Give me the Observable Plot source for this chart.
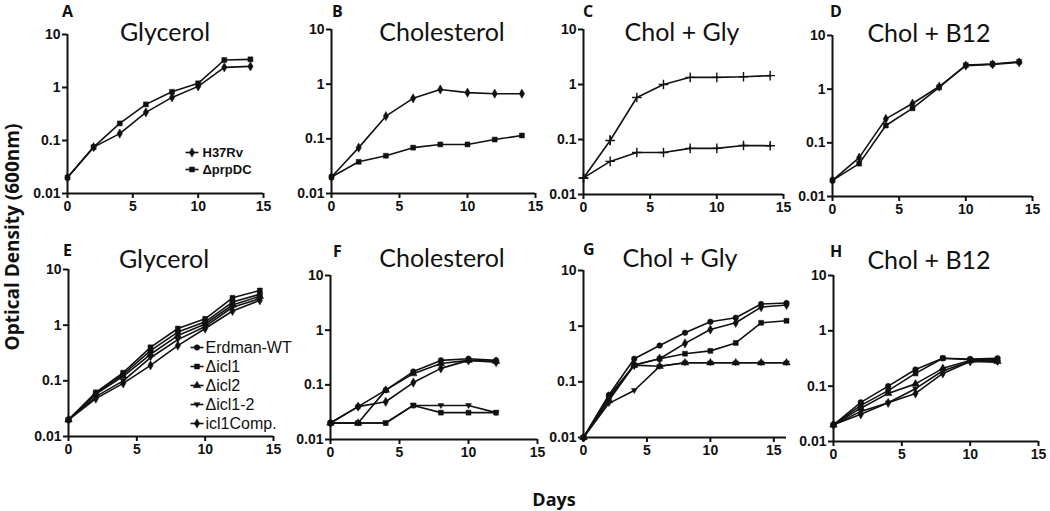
<!DOCTYPE html>
<html>
<head>
<meta charset="utf-8">
<script src="https://cdn.jsdelivr.net/npm/d3@7"></script>
<script src="https://cdn.jsdelivr.net/npm/@observablehq/plot@0.6"></script>
<style>
  html, body { margin: 0; padding: 0; background: #fff; }
  #fig { position: relative; width: 1050px; height: 511px; overflow: hidden; background: #fff; }
  .title { position: absolute; font-family: Lato, "Open Sans", sans-serif; font-size: 25px; line-height: 25px; color: #111; white-space: nowrap; transform: translateX(-50%); }
  .letter { position: absolute; font-family: "Open Sans", Lato, sans-serif; font-weight: bold; font-size: 16px; line-height: 16px; color: #111; }
  .axlabel { position: absolute; font-family: "Open Sans", Lato, sans-serif; font-weight: bold; color: #111; white-space: nowrap; }
</style>
</head>
<body>
<div id="fig"></div>
<script>
// ---------- data ----------
const topDays = [0, 2, 4, 6, 8, 10, 12, 14];
const topSeries = ["H37Rv", "ΔprpDC"];

const A_H37Rv = [0.02, 0.075, 0.135, 0.34, 0.65, 1.05, 2.4, 2.5];
const A_prpDC = [0.02, 0.075, 0.21, 0.48, 0.83, 1.2, 3.3, 3.4];

const B_H37Rv = [0.02, 0.069, 0.26, 0.55, 0.8, 0.7, 0.67, 0.67];
const B_prpDC = [0.02, 0.038, 0.049, 0.069, 0.079, 0.079, 0.097, 0.115];

const C_H37Rv = [0.02, 0.096, 0.58, 1.0, 1.35, 1.35, 1.38, 1.45];
const C_prpDC = [0.02, 0.04, 0.058, 0.058, 0.069, 0.069, 0.078, 0.077];
const C_errDay = [2, 8, 10, 12, 14];
const C_errLo = [0.078, 0.064, 0.064, 0.073, 0.072];
const C_errHi = [0.117, 0.074, 0.074, 0.084, 0.083];

const D_H37Rv = [0.02, 0.053, 0.28, 0.54, 1.12, 2.75, 2.9, 3.15];
const D_prpDC = [0.02, 0.041, 0.21, 0.44, 1.08, 2.8, 2.95, 3.25];

const botSeries = ["Erdman-WT", "Δicl1", "Δicl2", "Δicl1-2", "icl1Comp."];

const E_days = [0, 2, 4, 6, 8, 10, 12, 14];
const E_WT = [0.02, 0.06, 0.13, 0.35, 0.75, 1.15, 2.6, 3.6];
const E_icl1 = [0.02, 0.062, 0.14, 0.4, 0.87, 1.3, 3.1, 4.2];
const E_icl2 = [0.02, 0.058, 0.12, 0.3, 0.65, 1.05, 2.3, 3.3];
const E_icl12 = [0.02, 0.052, 0.1, 0.26, 0.55, 0.95, 2.1, 3.0];
const E_comp = [0.02, 0.048, 0.09, 0.19, 0.43, 0.87, 1.8, 2.8];

const F_days = [0, 2, 4, 6, 8, 10, 12];
const F_WT = [0.02, 0.04, 0.08, 0.175, 0.28, 0.3, 0.28];
const F_icl1 = [0.02, 0.02, 0.02, 0.042, 0.031, 0.031, 0.031];
const F_icl2 = [0.02, 0.02, 0.08, 0.16, 0.245, 0.28, 0.27];
const F_icl12 = [0.02, 0.02, 0.02, 0.042, 0.042, 0.042, 0.031];
const F_comp = [0.02, 0.04, 0.049, 0.11, 0.2, 0.28, 0.26];

const G_days = [0, 2, 4, 6, 8, 10, 12, 14, 16];
const G_WT = [0.01, 0.058, 0.26, 0.45, 0.76, 1.2, 1.42, 2.5, 2.6];
const G_icl1 = [0.01, 0.05, 0.2, 0.26, 0.32, 0.36, 0.5, 1.15, 1.25];
const G_icl2 = [0.01, 0.046, 0.2, 0.19, 0.22, 0.22, 0.22, 0.22, 0.22];
const G_icl12 = [0.01, 0.041, 0.07, 0.19, 0.22, 0.22, 0.22, 0.22, 0.22];
const G_comp = [0.01, 0.055, 0.2, 0.26, 0.49, 0.87, 1.15, 2.2, 2.4];

const H_days = [0, 2, 4, 6, 8, 10, 12];
const H_WT = [0.02, 0.051, 0.1, 0.2, 0.32, 0.31, 0.32];
const H_icl1 = [0.02, 0.045, 0.083, 0.17, 0.32, 0.3, 0.3];
const H_icl2 = [0.02, 0.04, 0.074, 0.11, 0.21, 0.29, 0.28];
const H_icl12 = [0.02, 0.035, 0.05, 0.09, 0.19, 0.28, 0.27];
const H_comp = [0.02, 0.031, 0.05, 0.074, 0.17, 0.28, 0.29];

const yTicks = [0.01, 0.1, 1, 10];
const xTicks = [0, 5, 10, 15];

// ---------- symbols ----------
const triangleDown = {
  draw(context, size) {
    const s = Math.sqrt(size) * 0.62;
    context.moveTo(0, s);
    context.lineTo(s * 0.95, -s * 0.6);
    context.lineTo(-s * 0.95, -s * 0.6);
    context.closePath();
  }
};
const symbolOf = {
  "H37Rv": "diamond", "ΔprpDC": "square",
  "Erdman-WT": "circle", "Δicl1": "square", "Δicl2": "triangle",
  "Δicl1-2": triangleDown, "icl1Comp.": "diamond"
};

const fig = document.getElementById("fig");
const INK = "#111";
const tickStyle = { fontFamily: "'Liberation Sans', Arial, sans-serif", fontSize: "14px", fontWeight: "bold", color: INK, background: "transparent" };

function rowsOf(days, values, name) {
  return days.map((d, i) => ({ day: d, od: values[i], series: name }));
}

function panel(p) {
  const ml = 48, mr = 14, mt = 8, mb = 28;
  const w = ml + (p.xEnd - p.x0) + mr;
  const h = mt + (p.yBot - p.yTop) + mb;
  const marks = [
    Plot.ruleY([0.01], { stroke: INK, strokeWidth: 2 }),
    Plot.ruleX([0], { stroke: INK, strokeWidth: 2 }),
    Plot.axisX({ ticks: xTicks, tickSize: 5, tickPadding: 3, strokeWidth: 2, label: null }),
    Plot.axisY({ ticks: yTicks, tickFormat: d => String(d), tickSize: 5, tickPadding: 2, strokeWidth: 2, label: null })
  ];
  if (p.err) {
    marks.push(Plot.ruleX(p.err, { x: "day", y1: "lo", y2: "hi", stroke: INK, strokeWidth: 1.6 }));
  }
  for (const s of p.series) {
    const rows = rowsOf(p.days, s.values, s.name);
    marks.push(Plot.line(rows, { x: "day", y: "od", stroke: INK, strokeWidth: 1.6 }));
    if (p.plusMarkers) {
      marks.push(Plot.dot(rows, { x: "day", y: "od", symbol: "plus", r: 3.2, stroke: INK, strokeWidth: 1.4, fill: "none" }));
    } else {
      marks.push(Plot.dot(rows, { x: "day", y: "od", symbol: symbolOf[s.name], r: 2.8, fill: INK, stroke: INK, strokeWidth: 0.5 }));
    }
  }
  const svg = Plot.plot({
    width: w, height: h,
    marginLeft: ml, marginRight: mr, marginTop: mt, marginBottom: mb,
    x: { domain: [0, p.xMax] },
    y: { type: "log", domain: [0.01, 10] },
    style: tickStyle,
    marks
  });
  svg.style.position = "absolute";
  svg.style.left = (p.x0 - ml) + "px";
  svg.style.top = (p.yTop - mt) + "px";
  fig.appendChild(svg);
}

function legend(names, opt) {
  const svg = Plot.plot({
    width: opt.width, height: opt.height,
    margin: 0,
    x: { domain: [0, 1], range: [5, 18] },
    y: { type: "point", domain: names, range: opt.yRange, padding: 0 },
    axis: null,
    style: { fontFamily: "'Liberation Sans', Arial, sans-serif", fontWeight: opt.weight, color: INK, background: "transparent", overflow: "visible" },
    marks: [
      Plot.link(names, { x1: 0, x2: 1, y1: d => d, y2: d => d, stroke: INK, strokeWidth: 1.6 }),
      Plot.dot(names, { x: 0.5, y: d => d, symbol: d => symbolOf[d], r: 2.8, fill: INK, stroke: INK, strokeWidth: 0.5 }),
      Plot.text(names, { x: 1, y: d => d, text: d => d, dx: opt.dx, textAnchor: "start", fill: INK, fontSize: opt.size, fontWeight: opt.weight })
    ]
  });
  svg.style.position = "absolute";
  svg.style.left = opt.left + "px";
  svg.style.top = opt.top + "px";
  fig.appendChild(svg);
}

function text(cls, str, left, top) {
  const el = document.createElement("div");
  el.className = cls;
  el.textContent = str;
  el.style.left = left + "px";
  el.style.top = top + "px";
  fig.appendChild(el);
  return el;
}

// ---------- panels ----------
panel({ x0: 67, xEnd: 263, xMax: 15, yTop: 34, yBot: 193, days: topDays,
  series: [{ name: "H37Rv", values: A_H37Rv }, { name: "ΔprpDC", values: A_prpDC }] });
panel({ x0: 331, xEnd: 535, xMax: 15, yTop: 29, yBot: 193, days: topDays,
  series: [{ name: "H37Rv", values: B_H37Rv }, { name: "ΔprpDC", values: B_prpDC }] });
panel({ x0: 583, xEnd: 783, xMax: 15, yTop: 29, yBot: 194, days: topDays, plusMarkers: true,
  err: C_errDay.map((d, i) => ({ day: d, lo: C_errLo[i], hi: C_errHi[i] })),
  series: [{ name: "H37Rv", values: C_H37Rv }, { name: "ΔprpDC", values: C_prpDC }] });
panel({ x0: 832, xEnd: 1032, xMax: 15, yTop: 35, yBot: 196, days: topDays,
  series: [{ name: "H37Rv", values: D_H37Rv }, { name: "ΔprpDC", values: D_prpDC }] });

const botVals = {
  E: [E_WT, E_icl1, E_icl2, E_icl12, E_comp],
  F: [F_WT, F_icl1, F_icl2, F_icl12, F_comp],
  G: [G_WT, G_icl1, G_icl2, G_icl12, G_comp],
  H: [H_WT, H_icl1, H_icl2, H_icl12, H_comp]
};
const mk = k => botSeries.map((n, i) => ({ name: n, values: botVals[k][i] }));
panel({ x0: 68, xEnd: 273, xMax: 15, yTop: 269, yBot: 436, days: E_days, series: mk("E") });
panel({ x0: 330, xEnd: 537, xMax: 15, yTop: 275, yBot: 439, days: F_days, series: mk("F") });
panel({ x0: 583, xEnd: 786, xMax: 16, yTop: 270, yBot: 437, days: G_days, series: mk("G") });
panel({ x0: 833, xEnd: 1038, xMax: 15, yTop: 275, yBot: 441, days: H_days, series: mk("H") });

// ---------- legends ----------
legend(topSeries, { left: 180, top: 140, width: 100, height: 40, yRange: [12, 29], weight: "bold", size: 13, dx: 4 });
legend(botSeries, { left: 185, top: 335, width: 110, height: 100, yRange: [12, 88], weight: "normal", size: 16, dx: 2 });

// ---------- titles & letters ----------
text("title", "Glycerol", 165, 19);
text("title", "Cholesterol", 442, 19);
text("title", "Chol + Gly", 682, 19);
text("title", "Chol + B12", 929, 20);
text("title", "Glycerol", 164, 246);
text("title", "Cholesterol", 442, 245);
text("title", "Chol + Gly", 680, 245);
text("title", "Chol + B12", 929, 247);

text("letter", "A", 62, 3);
text("letter", "B", 332, 3);
text("letter", "C", 583, 3);
text("letter", "D", 830, 3);
text("letter", "E", 63, 242);
text("letter", "F", 333, 243);
text("letter", "G", 583, 241);
text("letter", "H", 830, 243);

const yl = text("axlabel", "Optical Density (600nm)", 12, 237);
yl.style.fontSize = "19px"; yl.style.lineHeight = "19px";
yl.style.transform = "translate(-50%, -50%) rotate(-90deg)";
const xl = text("axlabel", "Days", 554, 499);
xl.style.fontSize = "18px"; xl.style.lineHeight = "18px";
xl.style.transform = "translate(-50%, -50%)";
</script>
</body>
</html>
